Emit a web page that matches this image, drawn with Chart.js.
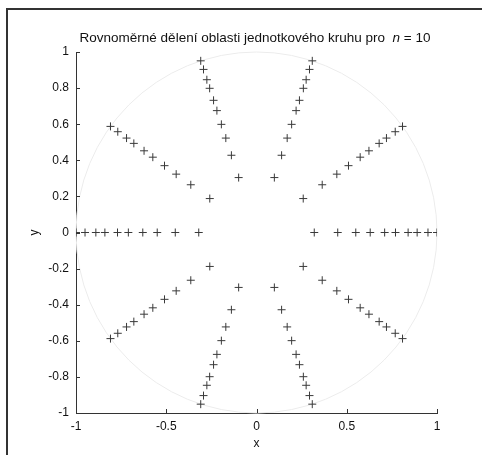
<!DOCTYPE html>
<html>
<head>
<meta charset="utf-8">
<script src="https://cdn.jsdelivr.net/npm/chart.js@4/dist/chart.umd.min.js"></script>
<style>
  html, body { margin: 0; padding: 0; background: #fff; }
  #wrap { position: relative; width: 482px; height: 455px; }
  #frame { position: absolute; left: 6px; top: 8px; right: 0; bottom: 0;
           border-left: 2px solid #333; border-top: 2px solid #333; pointer-events: none; }
  canvas { display: block; }
</style>
</head>
<body>
<div id="wrap">
  <canvas id="c" width="482" height="455"></canvas>
  <div id="frame"></div>
</div>
<script>
// Ten rays (angles in degrees) and the point radii along each ray
const rayAngles = [0, 36, 72, 108, 144, 180, 216, 252, 288, 324];
const radii = [0.32, 0.45, 0.55, 0.63, 0.71, 0.77, 0.84, 0.89, 0.95, 1.00];
const xTicks = [-1, -0.5, 0, 0.5, 1];
const yTicks = [-1, -0.8, -0.6, -0.4, -0.2, 0, 0.2, 0.4, 0.6, 0.8, 1];

// polar -> cartesian for each ray point
const points = [];
rayAngles.forEach(a => {
  const t = a * Math.PI / 180;
  radii.forEach(r => points.push({ x: r * Math.cos(t), y: r * Math.sin(t) }));
});

// faint unit circle, inward tick marks and the title with italic n
const decor = {
  id: 'decor',
  beforeDatasetsDraw(chart) {
    const { ctx, scales: { x, y } } = chart;
    const cx = x.getPixelForValue(0), cy = y.getPixelForValue(0);
    const rx = x.getPixelForValue(1) - cx, ry = cy - y.getPixelForValue(1);
    ctx.save();
    ctx.strokeStyle = '#ececec';
    ctx.lineWidth = 1;
    ctx.beginPath();
    ctx.ellipse(cx, cy, rx, ry, 0, 0, Math.PI * 2);
    ctx.stroke();
    ctx.restore();
  },
  afterDraw(chart) {
    const { ctx, chartArea: a, scales: { x, y } } = chart;
    ctx.save();
    ctx.strokeStyle = '#333';
    ctx.lineWidth = 1;
    ctx.beginPath();
    xTicks.forEach(v => {
      const px = Math.round(x.getPixelForValue(v)) + 0.5;
      ctx.moveTo(px, a.bottom); ctx.lineTo(px, a.bottom - 4);
    });
    yTicks.forEach(v => {
      const py = Math.round(y.getPixelForValue(v)) + 0.5;
      ctx.moveTo(a.left, py); ctx.lineTo(a.left + 4, py);
    });
    ctx.stroke();

    const parts = [
      { t: 'Rovnoměrné dělení oblasti jednotkového kruhu pro  ', f: '13.5px "Liberation Sans", Arial, sans-serif' },
      { t: 'n', f: 'italic 13.5px "Liberation Sans", Arial, sans-serif' },
      { t: ' = 10', f: '13.5px "Liberation Sans", Arial, sans-serif' }
    ];
    let w = 0;
    parts.forEach(p => { ctx.font = p.f; p.w = ctx.measureText(p.t).width; w += p.w; });
    let tx = 255 - w / 2;
    ctx.fillStyle = '#111';
    ctx.textBaseline = 'middle';
    ctx.textAlign = 'left';
    parts.forEach(p => { ctx.font = p.f; ctx.fillText(p.t, tx, 38); tx += p.w; });
    ctx.restore();
  }
};

const tickFont = { family: '"Liberation Sans", Arial, sans-serif', size: 12 };

new Chart(document.getElementById('c'), {
  type: 'scatter',
  data: {
    datasets: [{
      data: points,
      pointStyle: 'cross',
      pointRadius: 4,
      pointBorderWidth: 1,
      borderColor: '#3a3a3a',
      backgroundColor: '#3a3a3a',
      showLine: false
    }]
  },
  options: {
    responsive: false,
    animation: false,
    events: [],
    layout: { padding: { top: 52, right: 45, left: 0, bottom: 0 } },
    plugins: { legend: { display: false }, tooltip: { enabled: false }, title: { display: false } },
    scales: {
      x: {
        type: 'linear', min: -1, max: 1,
        afterBuildTicks: s => { s.ticks = xTicks.map(v => ({ value: v })); },
        afterFit: s => { s.height = 42; },
        grid: { display: false, drawTicks: false },
        border: { display: true, color: '#333', width: 1 },
        ticks: { color: '#111', font: tickFont, padding: 6, maxRotation: 0, autoSkip: false,
                 callback: v => String(v) },
        title: { display: true, text: 'x', color: '#111', font: tickFont, padding: { top: 0, bottom: 4 } }
      },
      y: {
        type: 'linear', min: -1, max: 1,
        afterBuildTicks: s => { s.ticks = yTicks.map(v => ({ value: v })); },
        afterFit: s => { s.width = 76; },
        grid: { display: false, drawTicks: false },
        border: { display: true, color: '#333', width: 1 },
        ticks: { color: '#111', font: tickFont, padding: 7, autoSkip: false,
                 callback: v => String(v) },
        title: { display: true, text: 'y', color: '#111', font: tickFont, padding: { top: 27, bottom: 0 } }
      }
    }
  },
  plugins: [decor]
});
</script>
</body>
</html>
